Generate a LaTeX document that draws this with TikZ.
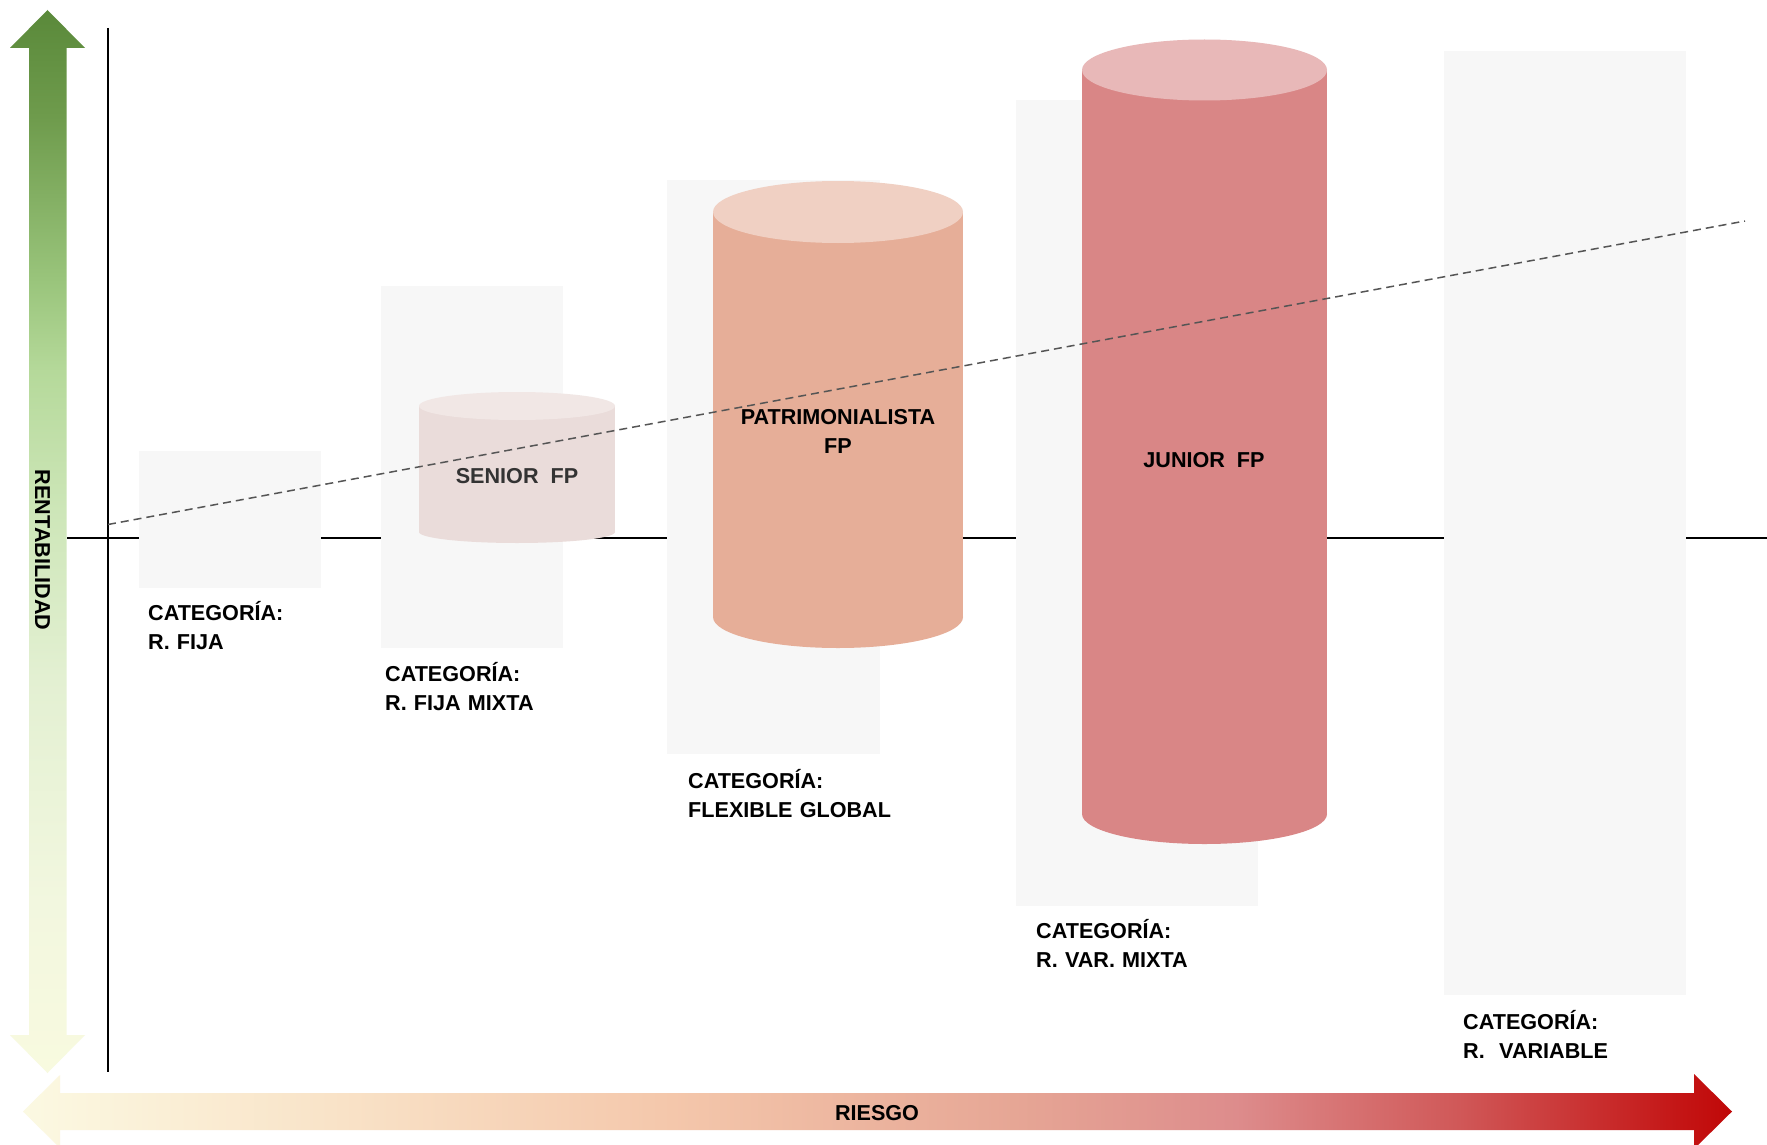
\documentclass[tikz,border=0pt]{standalone}
\usepackage{fontspec}
\setmainfont{Liberation Sans}
\definecolor{boxgray}{HTML}{F7F7F7}
\definecolor{seniorbody}{HTML}{EADCDA}
\definecolor{seniortop}{HTML}{F1E7E5}
\definecolor{patrbody}{HTML}{E6AE98}
\definecolor{patrtop}{HTML}{F0D0C3}
\definecolor{juniorbody}{HTML}{D98686}
\definecolor{juniortop}{HTML}{E8B8B8}
\definecolor{dashgray}{HTML}{555555}
\definecolor{seniortext}{HTML}{333333}
% horizontal arrow colours
\definecolor{ra}{HTML}{FBF9E2}
\definecolor{rb}{HTML}{F9E3C8}
\definecolor{rc}{HTML}{F4C7AB}
\definecolor{rd}{HTML}{E6A695}
\definecolor{re}{HTML}{DD8C8C}
\definecolor{rf}{HTML}{D05858}
\definecolor{rg}{HTML}{C41515}
\definecolor{rh}{HTML}{C00808}
% vertical arrow colours
\definecolor{va}{HTML}{F8FADF}
\definecolor{vb}{HTML}{F2F7DF}
\definecolor{vc}{HTML}{E3F0D2}
\definecolor{vd}{HTML}{CDE6B8}
\definecolor{ve}{HTML}{B5D99A}
\definecolor{vf}{HTML}{9AC57C}
\definecolor{vg}{HTML}{6E9B4C}
\definecolor{vh}{HTML}{5A893A}
\pgfdeclarehorizontalshading{riesgo}{100bp}{color(0bp)=(ra); color(25bp)=(ra); color(34bp)=(rb); color(44bp)=(rc); color(54bp)=(rd); color(60.5bp)=(re); color(67bp)=(rf); color(73.5bp)=(rg); color(75bp)=(rh); color(100bp)=(rh)}
\pgfdeclareverticalshading{rent}{100bp}{color(0bp)=(va); color(25bp)=(va); color(33bp)=(vb); color(43.6bp)=(vc); color(51.5bp)=(vd); color(58bp)=(ve); color(62.2bp)=(vf); color(70bp)=(vg); color(75bp)=(vh); color(100bp)=(vh)}
\tikzset{
  axisline/.style={line width=1.8pt, black},
  catbox/.style={fill=boxgray},
  trend/.style={dashgray, line width=1.5pt, dash pattern=on 8pt off 5pt},
  lab/.style={inner sep=0pt, font=\fontsize{21.6}{29}\selectfont\bfseries, text=black},
  catlabel/.style={lab, anchor=base west, text width=300pt, align=left},
  cyllabel/.style={lab, anchor=base, align=center},
}
\begin{document}
\begin{tikzpicture}[x=1pt,y=-1pt]
\fill[white] (0,0) rectangle (1767,1145);
\useasboundingbox (0,0) rectangle (1767,1145);

% gradient arrows
\shade[shading=riesgo] (23,1111.5) -- (60,1075) -- (60,1093) -- (1694,1093) -- (1694,1074) -- (1732,1111.5) -- (1694,1149) -- (1694,1130) -- (60,1130) -- (60,1148) -- cycle;
\shade[shading=rent] (47.5,10) -- (85,48) -- (66.5,48) -- (66.5,1035) -- (85,1035) -- (47.5,1073) -- (10,1035) -- (29,1035) -- (29,48) -- (10,48) -- cycle;

% axes
\coordinate (vtop) at (108,28);
\coordinate (vbot) at (108,1072);
\coordinate (hleft) at (67,538);
\coordinate (hright) at (1767,538);
\draw[axisline] (vtop) -- (vbot);
\draw[axisline] (hleft) -- (hright);

% category boxes
\fill[catbox] (139,451) rectangle (321,588);
\fill[catbox] (381,286) rectangle (563,648);
\fill[catbox] (667,180) rectangle (880,754);
\fill[catbox] (1016,100) rectangle (1258,906);
\fill[catbox] (1444,51) rectangle (1686,995);

% cylinders
\fill[seniorbody] (419,406) rectangle (615,532);
\fill[seniorbody] (517,532) ellipse [x radius=98pt, y radius=11pt];
\fill[seniortop] (517,406) ellipse [x radius=98pt, y radius=14pt];

\fill[patrbody] (713,212) rectangle (963,617);
\fill[patrbody] (838,617) ellipse [x radius=125pt, y radius=31pt];
\fill[patrtop] (838,212) ellipse [x radius=125pt, y radius=31pt];

\fill[juniorbody] (1082,70) rectangle (1327,814);
\fill[juniorbody] (1204.5,814) ellipse [x radius=122.5pt, y radius=30pt];
\fill[juniortop] (1204.5,70) ellipse [x radius=122.5pt, y radius=30.5pt];

% trend line
\coordinate (d1) at (108,524.5);
\coordinate (d2) at (1745,221);
\draw[trend] (d1) -- (d2);

% cylinder labels
\node[cyllabel, text=seniortext] (senior) at (517,483) {SENIOR~~FP};
\node[cyllabel, text width=260pt] (patr) at (838,424) {PATRIMONIALISTA\\FP};
\node[cyllabel] (junior) at (1204,467) {JUNIOR~~FP};

% category labels
\node[catlabel] (c1) at (148,620) {CATEGORÍA:\\R. FIJA};
\node[catlabel] (c2) at (385,681) {CATEGORÍA:\\R. FIJA MIXTA};
\node[catlabel] (c3) at (688,788) {CATEGORÍA:\\FLEXIBLE GLOBAL};
\node[catlabel] (c4) at (1036,938) {CATEGORÍA:\\R. VAR. MIXTA};
\node[catlabel] (c5) at (1463,1029) {CATEGORÍA:\\R.~~VARIABLE};

% axis labels
\node[lab, rotate=-90, anchor=base] (rentab) at (35,550) {RENTABILIDAD};
\node[lab, anchor=base] (riesgo) at (877,1120) {RIESGO};
\end{tikzpicture}
\end{document}
